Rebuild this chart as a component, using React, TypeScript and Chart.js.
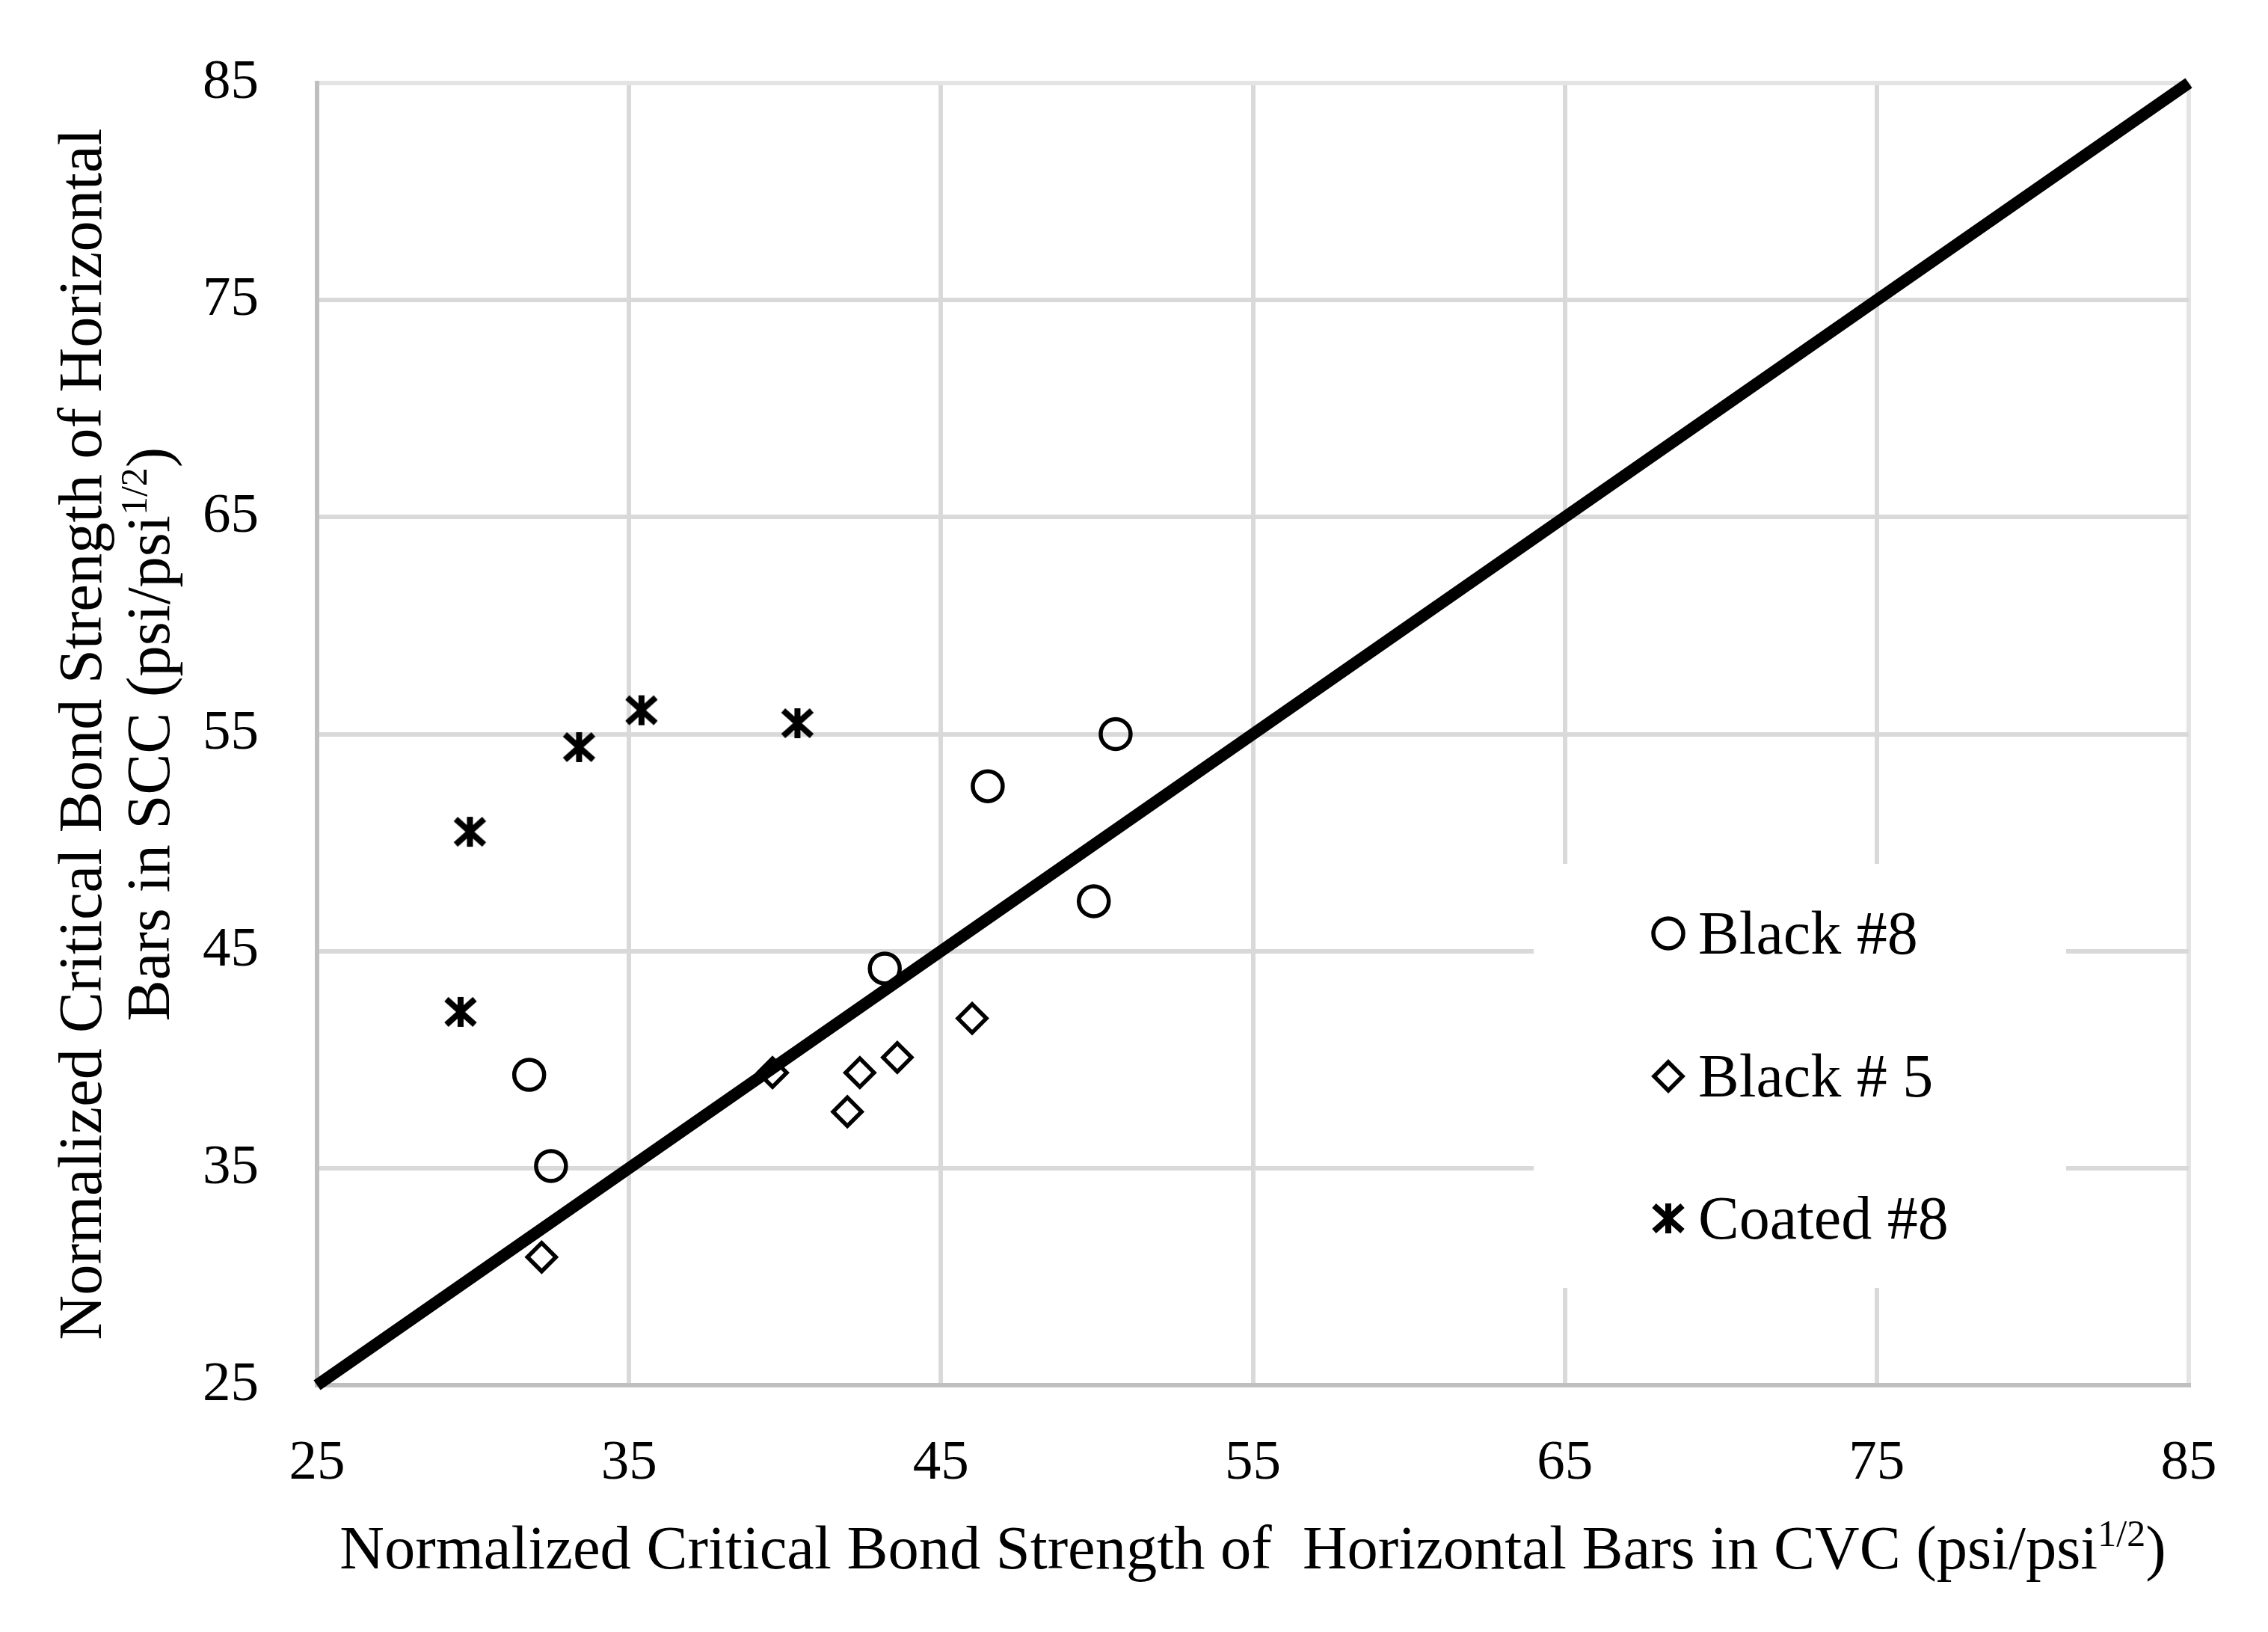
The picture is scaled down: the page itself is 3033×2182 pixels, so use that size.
import React, { useEffect, useRef } from 'react';
import { Chart, registerables } from 'chart.js';

Chart.register(...registerables);

// ---------- data ----------
const AXIS_MIN = 25;
const AXIS_MAX = 85;
const AXIS_STEP = 10;

const seriesLabels = ['Black #8', 'Black # 5', 'Coated #8'];

const black8X = [31.8, 32.5, 43.2, 46.5, 50.6, 49.9];
const black8Y = [39.3, 35.1, 44.2, 52.6, 55.0, 47.3];

const black5X = [32.2, 39.6, 42.0, 42.4, 43.6, 46.0];
const black5Y = [30.9, 39.4, 37.6, 39.4, 40.1, 41.9];

const coated8X = [29.6, 29.9, 33.4, 35.4, 40.4];
const coated8Y = [42.2, 50.5, 54.4, 56.1, 55.5];

const equalityX = [25, 85];
const equalityY = [25, 85];

const xTitleParts = [
  { t: 'Normalized Critical Bond Strength of  Horizontal Bars in CVC (psi/psi' },
  { t: '1/2', sup: true },
  { t: ')' },
];
const yTitleLine1 = [{ t: 'Normalized Critical Bond Strength of Horizontal' }];
const yTitleLine2 = [
  { t: 'Bars in SCC (psi/psi' },
  { t: '1/2', sup: true },
  { t: ')' },
];

// ---------- styling ----------
const FONT = '"Liberation Serif", "Times New Roman", serif';
const TICK_SIZE = 75;
const TITLE_SIZE = 82.5;
const LEGEND_SIZE = 82;
const MARK_LW = 5.5;
const CIRCLE_R = 20;
const DIAMOND_R = 19;

const zip = (xs: number[], ys: number[]) => xs.map((x, i) => ({ x, y: ys[i] }));

function makeStarCanvas(): HTMLCanvasElement {
  const w = 46;
  const h = 44;
  const c = document.createElement('canvas');
  c.width = w;
  c.height = h;
  const g = c.getContext('2d')!;
  g.strokeStyle = '#000';
  g.lineWidth = 8;
  g.lineCap = 'butt';
  g.beginPath();
  g.moveTo(w / 2, 2);
  g.lineTo(w / 2, h - 2);
  g.moveTo(4, 5);
  g.lineTo(w - 4, h - 5);
  g.moveTo(4, h - 5);
  g.lineTo(w - 4, 5);
  g.stroke();
  return c;
}

type Part = { t: string; sup?: boolean };

function drawRich(ctx: CanvasRenderingContext2D, parts: Part[], x: number, y: number, size: number) {
  const supSize = Math.round(size * 0.6);
  const widths = parts.map((p) => {
    ctx.font = `${p.sup ? supSize : size}px ${FONT}`;
    return ctx.measureText(p.t).width;
  });
  const total = widths.reduce((a, b) => a + b, 0);
  let cx = x - total / 2;
  ctx.textAlign = 'left';
  ctx.textBaseline = 'alphabetic';
  parts.forEach((p, i) => {
    ctx.font = `${p.sup ? supSize : size}px ${FONT}`;
    ctx.fillText(p.t, cx, p.sup ? y - size * 0.36 : y);
    cx += widths[i];
  });
}

const decorPlugin = {
  id: 'decor',
  afterDraw(chart: any) {
    const ctx: CanvasRenderingContext2D = chart.ctx;
    const area = chart.chartArea;
    ctx.save();
    ctx.fillStyle = '#000';

    // x axis title
    drawRich(ctx, xTitleParts, (area.left + area.right) / 2, 2097, TITLE_SIZE);

    // y axis title (two lines, rotated)
    const cy = (area.top + area.bottom) / 2;
    ctx.save();
    ctx.translate(135, cy);
    ctx.rotate(-Math.PI / 2);
    drawRich(ctx, yTitleLine1, 0, 0, TITLE_SIZE);
    ctx.restore();
    ctx.save();
    ctx.translate(226, cy);
    ctx.rotate(-Math.PI / 2);
    drawRich(ctx, yTitleLine2, 0, 0, TITLE_SIZE);
    ctx.restore();

    // legend
    const box = { x: 2051, y: 1155, w: 712, h: 567 };
    ctx.fillStyle = '#fff';
    ctx.fillRect(box.x, box.y, box.w, box.h);
    const rows = [1248, 1439, 1629];
    const markX = 2231;
    const textX = 2271;
    const ds = chart.data.datasets.filter((d: any) => d.inLegend);
    ds.forEach((d: any, i: number) => {
      const ry = rows[i];
      ctx.strokeStyle = '#000';
      ctx.lineWidth = MARK_LW;
      if (d.pointStyle === 'circle') {
        ctx.beginPath();
        ctx.arc(markX, ry, CIRCLE_R, 0, Math.PI * 2);
        ctx.stroke();
      } else if (d.pointStyle === 'rectRot') {
        ctx.beginPath();
        ctx.moveTo(markX, ry - DIAMOND_R);
        ctx.lineTo(markX + DIAMOND_R, ry);
        ctx.lineTo(markX, ry + DIAMOND_R);
        ctx.lineTo(markX - DIAMOND_R, ry);
        ctx.closePath();
        ctx.stroke();
      } else if (d.pointStyle instanceof HTMLCanvasElement) {
        const img = d.pointStyle as HTMLCanvasElement;
        ctx.drawImage(img, markX - img.width / 2, ry - img.height / 2);
      }
      ctx.fillStyle = '#000';
      ctx.font = `${LEGEND_SIZE}px ${FONT}`;
      ctx.textAlign = 'left';
      ctx.textBaseline = 'alphabetic';
      ctx.fillText(d.label, textX, ry + LEGEND_SIZE * 0.331);
    });
    ctx.restore();
  },
};

export default function App() {
  const ref = useRef<HTMLCanvasElement | null>(null);

  useEffect(() => {
    if (!ref.current) return;
    const star = makeStarCanvas();
    const gridColor = (c: any) => (c.tick && c.tick.value === AXIS_MAX ? '#e4e4e4' : '#d9d9d9');

    const chart = new Chart(ref.current, {
      type: 'scatter',
      data: {
        datasets: [
          {
            type: 'line',
            label: 'Equality',
            data: zip(equalityX, equalityY),
            borderColor: '#000',
            borderWidth: 16,
            pointRadius: 0,
            fill: false,
            clip: false as any,
            inLegend: false,
          } as any,
          {
            label: seriesLabels[0],
            data: zip(black8X, black8Y),
            pointStyle: 'circle',
            pointRadius: CIRCLE_R,
            pointBorderWidth: MARK_LW,
            pointBorderColor: '#000',
            pointBackgroundColor: 'rgba(0,0,0,0)',
            inLegend: true,
          } as any,
          {
            label: seriesLabels[1],
            data: zip(black5X, black5Y),
            pointStyle: 'rectRot',
            pointRadius: DIAMOND_R,
            pointBorderWidth: MARK_LW,
            pointBorderColor: '#000',
            pointBackgroundColor: 'rgba(0,0,0,0)',
            inLegend: true,
          } as any,
          {
            label: seriesLabels[2],
            data: zip(coated8X, coated8Y),
            pointStyle: star,
            pointRadius: 22,
            pointBorderWidth: 0,
            inLegend: true,
          } as any,
        ],
      },
      options: {
        animation: false,
        responsive: true,
        maintainAspectRatio: false,
        devicePixelRatio: 1,
        layout: { padding: { left: 0, top: 111, right: 106, bottom: 0 } },
        plugins: {
          legend: { display: false },
          tooltip: { enabled: false },
          title: { display: false },
        },
        scales: {
          x: {
            type: 'linear',
            min: AXIS_MIN,
            max: AXIS_MAX,
            ticks: {
              stepSize: AXIS_STEP,
              color: '#000',
              padding: 60,
              font: { family: FONT, size: TICK_SIZE },
            },
            grid: { color: gridColor, lineWidth: 6, drawTicks: false },
            border: { display: true, color: '#bfbfbf', width: 6 },
            afterFit: (s: any) => {
              s.height = 330;
              s.paddingLeft = 0;
              s.paddingRight = 0;
            },
          },
          y: {
            type: 'linear',
            min: AXIS_MIN,
            max: AXIS_MAX,
            ticks: {
              stepSize: AXIS_STEP,
              color: '#000',
              padding: 78,
              font: { family: FONT, size: TICK_SIZE },
            },
            grid: { color: gridColor, lineWidth: 6, drawTicks: false },
            border: { display: true, color: '#bfbfbf', width: 6 },
            afterFit: (s: any) => {
              s.width = 424;
              s.paddingTop = 0;
              s.paddingBottom = 0;
            },
          },
        },
      },
      plugins: [decorPlugin],
    } as any);

    return () => chart.destroy();
  }, []);

  return (
    <div style={{ position: 'absolute', left: 0, top: 0, width: 3033, height: 2182, background: '#fff' }}>
      <canvas ref={ref} />
    </div>
  );
}
